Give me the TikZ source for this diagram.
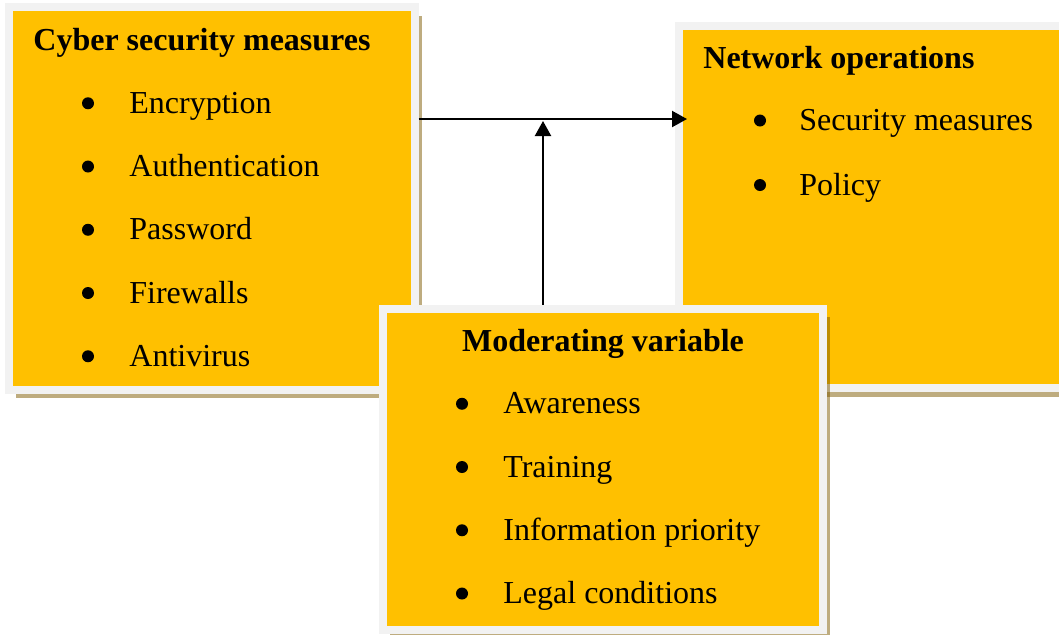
\documentclass[tikz,border=0pt]{standalone}
\usepackage{fontspec}
\setmainfont{Liberation Serif}
\usetikzlibrary{arrows.meta,shadows}

\definecolor{panelfill}{HTML}{FFC000}
\definecolor{panelframe}{HTML}{F2F2F2}
\definecolor{panelshade}{RGB}{125,89,0}

\tikzset{
    panel/.style={anchor=north west, outer sep=0pt, fill=panelfill, draw=panelframe, line width=4pt,
        drop shadow={shadow xshift=3.5pt, shadow yshift=-4.25pt, fill=panelshade, opacity=0.5}},
    heading/.style={font=\fontsize{16pt}{19pt}\selectfont\bfseries, inner sep=0pt},
    entry/.style={font=\fontsize{16pt}{19pt}\selectfont, anchor=base west, inner sep=0pt},
    dot/.style={circle, fill=black, inner sep=0pt, minimum size=6pt},
    link/.style={line width=1.1pt, -{Triangle[length=7.5pt,width=8pt]}}
}

\begin{document}
\begin{tikzpicture}[x=0.5pt, y=-0.5pt]
    \useasboundingbox (0, 0) rectangle (1059, 634);
    \clip (0, 0) rectangle (1059, 634);
    % the two outer boxes.
    \node[panel, minimum width=202.75pt, minimum height=191.25pt] (cyber) at (9, 7) {};
    \node[panel, minimum width=198pt, minimum height=181pt] (network) at (679, 26) {};
    % arrows, the vertical one meets the horizontal one.
    \coordinate (meet) at (543, 119);
    \draw[link, shorten <=2pt, shorten >=-4pt] (cyber.east |- meet) -- (network.west |- meet);
    \draw[link, shorten >=1pt] (543, 308) coordinate (moderating root) -- (meet);
    % moderating box on top.
    \node[panel, minimum width=220pt, minimum height=160.75pt] (moderating) at (383, 308.5) {};
    % headings.
    \node[heading, anchor=base west] (cyber title) at (33, 50) {Cyber security measures};
    \node[heading, anchor=base west] (network title) at (703, 68) {Network operations};
    \node[heading, anchor=base] (moderating title) at (603, 351) {Moderating variable};
    % bullet lists.
    \foreach \txt [count=\i] in {Encryption, Authentication, Password, Firewalls, Antivirus} {
        \node[dot] (cyber dot \i) at (88, 50 + 63.25*\i - 10) {};
        \node[entry] (cyber item \i) at (129, 50 + 63.25*\i) {\txt};
    }
    \foreach \txt [count=\i] in {Security measures, Policy} {
        \node[dot] (network dot \i) at (760, 66 + 64.5*\i - 10) {};
        \node[entry] (network item \i) at (799, 66 + 64.5*\i) {\txt};
    }
    \foreach \txt [count=\i] in {Awareness, Training, Information priority, Legal conditions} {
        \node[dot] (moderating dot \i) at (462, 350.5 + 63.25*\i - 10) {};
        \node[entry] (moderating item \i) at (503, 350.5 + 63.25*\i) {\txt};
    }
\end{tikzpicture}
\end{document}
